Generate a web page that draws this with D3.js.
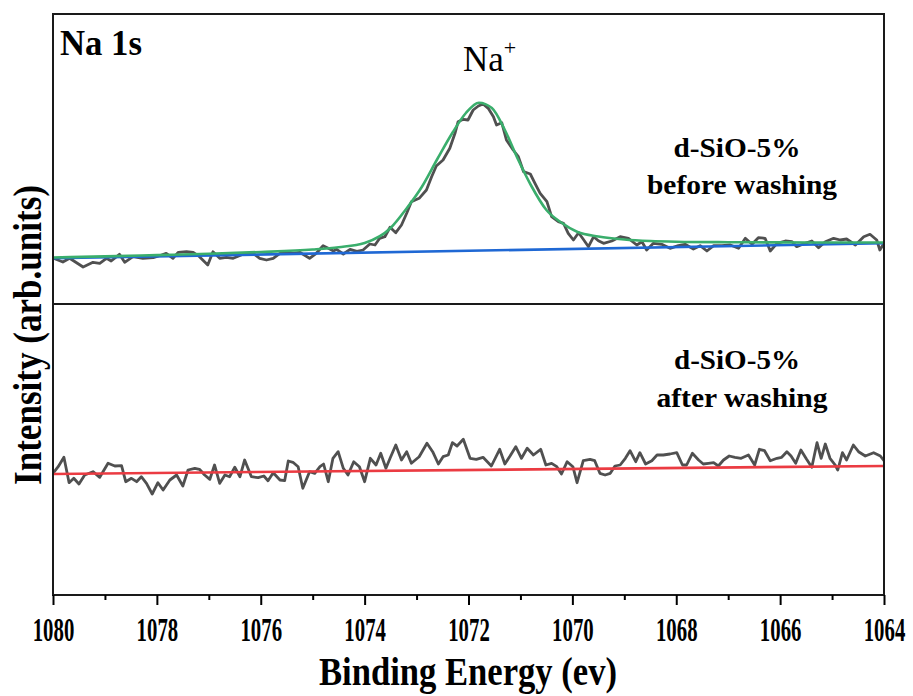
<!DOCTYPE html>
<html>
<head>
<meta charset="utf-8">
<script src="https://cdn.jsdelivr.net/npm/d3@7"></script>
<style>
  html, body { margin: 0; padding: 0; background: #fff; }
  svg { display: block; }
  text { font-family: "Liberation Serif", "Times New Roman", serif; fill: #000; }
</style>
</head>
<body>
<svg id="chart" width="913" height="696"></svg>
<script>
// ---------- DATA ----------
// Binding energy axis ticks
const majorTicks = [1080, 1078, 1076, 1074, 1072, 1070, 1068, 1066, 1064];
const minorTicks = [1079, 1077, 1075, 1073, 1071, 1069, 1067, 1065];

// Top panel: d-SiO-5% before washing — raw spectrum (arb. units)
const beforeEnergy = [
  1080.00,1079.81,1079.68,1079.42,1079.23,1079.10,1078.97,1078.88,1078.72,1078.62,
  1078.46,1078.27,1078.07,1077.95,1077.82,1077.69,1077.59,1077.43,1077.30,1077.18,
  1077.02,1076.92,1076.79,1076.66,1076.53,1076.34,1076.15,1076.02,1075.89,1075.76,
  1075.63,1075.51,1075.38,1075.25,1075.06,1074.93,1074.80,1074.70,1074.60,1074.54,
  1074.41,1074.28,1074.15,1074.03,1073.90,1073.80,1073.71,1073.61,1073.51,1073.40,
  1073.29,1073.19,1073.10,1072.95,1072.81,1072.71,1072.62,1072.49,1072.36,1072.26,
  1072.20,1072.10,1072.01,1071.91,1071.81,1071.72,1071.62,1071.52,1071.46,1071.36,
  1071.27,1071.14,1071.04,1070.94,1070.81,1070.72,1070.62,1070.49,1070.40,1070.27,
  1070.17,1070.08,1069.98,1069.88,1069.79,1069.69,1069.59,1069.50,1069.40,1069.24,
  1069.08,1068.92,1068.76,1068.66,1068.57,1068.44,1068.28,1068.12,1067.96,1067.83,
  1067.67,1067.54,1067.41,1067.28,1067.12,1066.96,1066.80,1066.67,1066.54,1066.42,
  1066.29,1066.19,1066.06,1065.90,1065.77,1065.68,1065.52,1065.39,1065.26,1065.13,
  1064.97,1064.84,1064.72,1064.55,1064.39,1064.27,1064.14,1064.08,1064.00
];
const beforeIntensity = [
  46.0,42.0,45.7,37.0,41.7,40.7,45.7,43.0,49.7,41.7,
  47.3,45.7,46.3,48.3,50.7,45.7,51.7,52.3,51.7,47.3,
  39.0,52.3,45.7,46.7,45.7,49.7,50.7,45.7,44.0,45.7,
  50.7,51.7,50.7,51.7,45.7,50.7,58.3,55.7,53.0,54.7,
  50.0,54.7,52.7,54.0,60.0,59.0,65.7,67.3,76.7,71.3,
  79.0,90.7,102.3,105.7,114.0,127.3,138.0,144.0,155.7,170.7,
  182.3,184.7,184.0,194.0,198.0,200.0,195.7,187.3,179.0,181.3,
  164.0,154.0,147.3,132.3,130.0,120.7,110.7,102.3,87.3,82.3,
  80.7,70.7,64.0,71.3,64.7,57.3,67.3,63.3,60.7,63.0,
  67.3,65.7,59.0,62.3,54.0,60.7,59.7,55.7,58.3,59.7,
  55.0,58.3,53.0,58.3,58.3,59.0,55.7,65.7,59.7,66.3,
  65.7,53.0,60.7,63.0,62.3,57.3,60.7,63.0,56.3,62.3,
  65.7,64.0,65.0,59.0,67.3,69.7,64.0,54.0,60.7
];

// Top panel: Na+ peak fit envelope (green)
const fitEnergy = [
  1080,1079,1078,1077,1076,1075,1074.5,1074,1073.5,1073.2,
  1072.9,1072.6,1072.3,1072.05,1071.8,1071.55,1071.3,1071.05,1070.8,1070.5,
  1070.2,1069.9,1069.5,1069,1068.5,1068,1067,1066,1065,1064
];
const fitIntensity = [
  46.5,47.6,48.9,50.3,52.0,54.5,56.8,61.0,76.0,95.0,
  117.0,145.0,172.0,191.0,201.3,196.0,174.0,145.0,119.0,94.0,
  81.0,72.0,67.5,64.5,63.0,62.3,61.8,61.6,61.5,61.5
];

// Top panel: background (blue)
const bgBeforeEnergy = [1080, 1064];
const bgBeforeIntensity = [45.7, 60.7];

// Bottom panel: d-SiO-5% after washing — raw spectrum (arb. units)
const afterEnergy = [
  1080.00,1079.90,1079.79,1079.69,1079.60,1079.50,1079.39,1079.23,1079.10,1078.94,
  1078.81,1078.68,1078.60,1078.49,1078.39,1078.30,1078.20,1078.09,1077.98,1077.88,
  1077.75,1077.62,1077.50,1077.40,1077.27,1077.18,1077.08,1076.98,1076.89,1076.79,
  1076.69,1076.60,1076.50,1076.40,1076.31,1076.18,1076.05,1075.94,1075.86,1075.76,
  1075.63,1075.54,1075.47,1075.38,1075.28,1075.19,1075.06,1074.96,1074.86,1074.79,
  1074.70,1074.61,1074.51,1074.41,1074.32,1074.21,1074.10,1074.00,1073.89,1073.78,
  1073.69,1073.59,1073.51,1073.40,1073.29,1073.19,1073.10,1072.95,1072.80,1072.69,
  1072.58,1072.49,1072.39,1072.31,1072.22,1072.10,1071.97,1071.85,1071.72,1071.56,
  1071.40,1071.30,1071.20,1071.09,1070.98,1070.87,1070.75,1070.61,1070.51,1070.40,
  1070.30,1070.21,1070.10,1069.99,1069.91,1069.79,1069.66,1069.57,1069.47,1069.37,
  1069.27,1069.18,1069.08,1068.98,1068.89,1068.78,1068.70,1068.59,1068.47,1068.37,
  1068.25,1068.12,1067.99,1067.88,1067.80,1067.69,1067.57,1067.48,1067.38,1067.28,
  1067.19,1067.09,1066.98,1066.87,1066.75,1066.61,1066.49,1066.40,1066.30,1066.19,
  1066.06,1065.97,1065.87,1065.79,1065.70,1065.60,1065.49,1065.39,1065.29,1065.21,
  1065.13,1065.04,1064.94,1064.89,1064.80,1064.72,1064.59,1064.49,1064.36,1064.20,
  1064.07,1064.00
];
const afterIntensity = [
  121.7,128.3,137.7,112.3,116.7,111.0,120.0,123.3,117.7,131.7,
  129.0,129.3,113.3,116.7,113.3,118.3,111.7,101.0,112.3,105.0,
  115.0,120.0,109.0,125.0,126.7,125.7,120.0,115.7,130.0,111.7,
  120.0,118.3,127.7,118.3,135.0,118.3,117.3,119.0,114.3,122.3,
  115.0,114.3,134.0,132.7,128.3,106.7,123.3,121.7,128.3,131.0,
  113.3,136.7,143.3,126.7,120.0,133.3,128.3,113.3,136.7,130.0,
  141.7,126.7,136.7,150.0,135.0,143.3,131.7,138.3,151.7,143.3,
  131.0,138.3,140.0,152.3,149.0,155.7,136.7,135.7,137.7,129.0,
  145.7,131.0,139.0,148.3,136.7,146.7,140.0,145.7,130.0,131.7,
  128.3,121.0,133.3,128.3,112.3,134.3,135.7,134.3,121.7,120.0,
  121.7,129.0,130.0,136.7,144.3,133.3,142.3,131.0,134.3,140.0,
  140.0,141.0,142.3,130.0,130.0,141.7,135.0,131.0,131.7,132.3,
  129.0,135.0,139.0,137.7,136.7,140.0,130.0,145.7,144.3,134.3,
  136.7,137.7,143.3,139.0,131.7,145.0,135.7,127.7,152.3,136.7,
  151.0,136.7,130.0,125.0,142.3,135.0,150.0,143.3,139.0,142.3,
  139.0,134.3
];

// Bottom panel: background (red)
const bgAfterEnergy = [1080, 1064];
const bgAfterIntensity = [121, 129];

// ---------- DRAWING ----------
const svg = d3.select("#chart");
const L = 53, R = 884, T = 14, MID = 304, B = 595;

const x = d3.scaleLinear().domain([1080, 1064]).range([L, R]);
const yTop = d3.scaleLinear().domain([0, 290]).range([MID, T]);
const yBot = d3.scaleLinear().domain([0, 291]).range([B, MID]);

const zip = (ex, iy) => ex.map((e, i) => [e, iy[i]]);

svg.append("defs").append("clipPath").attr("id", "plotclip")
  .append("rect").attr("x", L).attr("y", T).attr("width", R - L).attr("height", B - T);

const g = svg.append("g").attr("clip-path", "url(#plotclip)");

const lineTop = d3.line().x(d => x(d[0])).y(d => yTop(d[1]));
const lineTopSmooth = d3.line().x(d => x(d[0])).y(d => yTop(d[1])).curve(d3.curveMonotoneX);
const lineBot = d3.line().x(d => x(d[0])).y(d => yBot(d[1]));

// raw spectra
g.append("path").attr("d", lineTop(zip(beforeEnergy, beforeIntensity)))
  .attr("fill", "none").attr("stroke", "#505050").attr("stroke-width", 2.8).attr("stroke-linejoin", "round");
g.append("path").attr("d", lineBot(zip(afterEnergy, afterIntensity)))
  .attr("fill", "none").attr("stroke", "#505050").attr("stroke-width", 2.8).attr("stroke-linejoin", "round");

// backgrounds
g.append("path").attr("d", lineTop(zip(bgBeforeEnergy, bgBeforeIntensity)))
  .attr("fill", "none").attr("stroke", "#1f68d4").attr("stroke-width", 2.6);
g.append("path").attr("d", lineBot(zip(bgAfterEnergy, bgAfterIntensity)))
  .attr("fill", "none").attr("stroke", "#eb3b42").attr("stroke-width", 2.6);

// fit envelope
g.append("path").attr("d", lineTopSmooth(zip(fitEnergy, fitIntensity)))
  .attr("fill", "none").attr("stroke", "#3aae6c").attr("stroke-width", 2.6);

// frame
svg.append("rect").attr("x", L).attr("y", T).attr("width", R - L).attr("height", B - T)
  .attr("fill", "none").attr("stroke", "#1a1a1a").attr("stroke-width", 2);
svg.append("line").attr("x1", L).attr("x2", R).attr("y1", MID).attr("y2", MID)
  .attr("stroke", "#1a1a1a").attr("stroke-width", 2);

// x axis
const axMajor = svg.append("g").attr("transform", `translate(0,${B})`)
  .call(d3.axisBottom(x).tickValues(majorTicks).tickSize(10).tickFormat(d3.format("d")));
axMajor.select(".domain").remove();
axMajor.selectAll(".tick line").attr("stroke", "#000").attr("stroke-width", 2);
axMajor.selectAll(".tick text")
  .attr("y", 0).attr("dy", 0)
  .attr("transform", "translate(0,46) scale(0.63,1)")
  .style("font-family", '"Liberation Serif", serif')
  .style("font-weight", "bold").style("font-size", "33px").attr("fill", "#000");

const axMinor = svg.append("g").attr("transform", `translate(0,${B})`)
  .call(d3.axisBottom(x).tickValues(minorTicks).tickSize(5).tickFormat(""));
axMinor.select(".domain").remove();
axMinor.selectAll(".tick line").attr("stroke", "#000").attr("stroke-width", 2);

// axis titles
svg.append("text").attr("x", 468).attr("y", 685).attr("text-anchor", "middle")
  .style("font-weight", "bold").style("font-size", "39px")
  .attr("textLength", 298).attr("lengthAdjust", "spacingAndGlyphs")
  .text("Binding Energy (ev)");

svg.append("text").attr("transform", "translate(41,335) rotate(-90)").attr("text-anchor", "middle")
  .style("font-weight", "bold").style("font-size", "40px")
  .attr("textLength", 300).attr("lengthAdjust", "spacingAndGlyphs")
  .text("Intensity (arb.units)");

// annotations
svg.append("text").attr("x", 60).attr("y", 55)
  .style("font-weight", "bold").style("font-size", "35px")
  .attr("textLength", 82).attr("lengthAdjust", "spacingAndGlyphs")
  .text("Na 1s");

const na = svg.append("text").attr("x", 463).attr("y", 71).style("font-size", "35px");
na.append("tspan").text("Na");
na.append("tspan").attr("dy", -16).style("font-size", "22px").text("+");

svg.append("text").attr("x", 737).attr("y", 157).attr("text-anchor", "middle")
  .style("font-weight", "bold").style("font-size", "28px")
  .attr("textLength", 127).attr("lengthAdjust", "spacingAndGlyphs")
  .text("d-SiO-5%");
svg.append("text").attr("x", 742).attr("y", 194).attr("text-anchor", "middle")
  .style("font-weight", "bold").style("font-size", "28px")
  .attr("textLength", 190).attr("lengthAdjust", "spacingAndGlyphs")
  .text("before washing");

svg.append("text").attr("x", 737).attr("y", 369).attr("text-anchor", "middle")
  .style("font-weight", "bold").style("font-size", "28px")
  .attr("textLength", 126).attr("lengthAdjust", "spacingAndGlyphs")
  .text("d-SiO-5%");
svg.append("text").attr("x", 742).attr("y", 407).attr("text-anchor", "middle")
  .style("font-weight", "bold").style("font-size", "28px")
  .attr("textLength", 171).attr("lengthAdjust", "spacingAndGlyphs")
  .text("after washing");
</script>
</body>
</html>
